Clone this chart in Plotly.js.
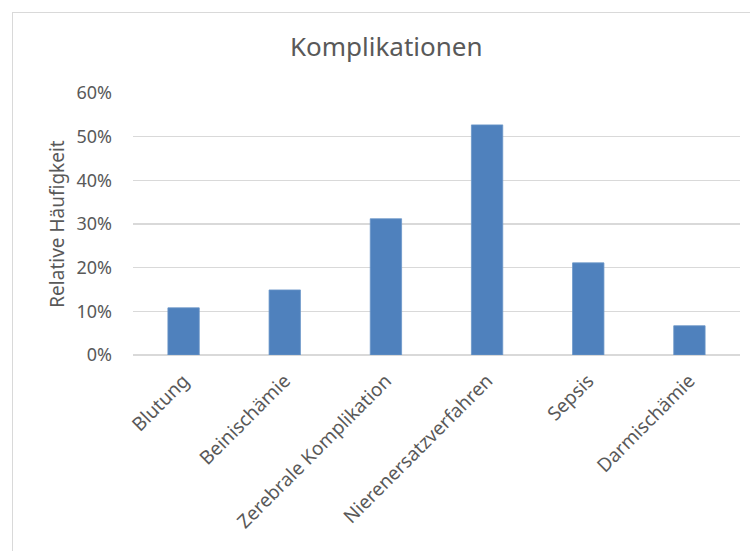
<!DOCTYPE html>
<html>
<head>
<meta charset="utf-8">
<script src="https://cdn.plot.ly/plotly-3.0.1.min.js"></script>
<style>
  html, body { margin: 0; padding: 0; background: #ffffff; overflow: hidden; }
  #wrap { position: relative; width: 750px; height: 551px; }
  #chart { position: absolute; left: 0; top: 0; width: 750px; height: 551px; }
  #frame { position: absolute; left: 12px; top: 12px; width: 800px; height: 600px;
           border: 1.5px solid #d9d9d9; pointer-events: none; }
</style>
</head>
<body>
<div id="wrap">
  <div id="chart"></div>
  <div id="frame"></div>
</div>
<script>
// Complication categories and their relative frequencies
const categories = [
  'Blutung',
  'Beinischämie',
  'Zerebrale Komplikation',
  'Nierenersatzverfahren',
  'Sepsis',
  'Darmischämie'
];
const frequencies = [0.108, 0.149, 0.312, 0.527, 0.211, 0.067];
const yTicks = [0, 0.1, 0.2, 0.3, 0.4, 0.5, 0.6];
const yTickLabels = ['0%', '10%', '20%', '30%', '40%', '50%', '60%'];

const textColor = '#595959';
const gridColor = '#d9d9d9';
const fontFamily = '"Noto Sans", "Open Sans", sans-serif';

const bars = {
  type: 'bar',
  x: categories,
  y: frequencies,
  marker: { color: '#4f81bd', line: { color: '#6a95c8', width: 0.8 } },
  hoverinfo: 'x+y'
};

const layout = {
  width: 750,
  height: 551,
  margin: { l: 133, r: 10, t: 93, b: 196 },
  paper_bgcolor: '#ffffff',
  plot_bgcolor: '#ffffff',
  showlegend: false,
  bargap: 0.69,
  font: { family: fontFamily, color: textColor, size: 17 },
  title: {
    text: 'Komplikationen',
    font: { family: fontFamily, size: 26, color: textColor },
    x: 0.515,
    xanchor: 'center',
    y: 0.915,
    yanchor: 'middle'
  },
  xaxis: {
    type: 'category',
    tickangle: -45,
    tickfont: { family: fontFamily, size: 19, color: textColor },
    ticklabelstandoff: 10,
    showgrid: false,
    showline: false,
    zeroline: false,
    ticks: '',
    automargin: false
  },
  yaxis: {
    range: [0, 0.6],
    tickvals: yTicks,
    ticktext: yTickLabels,
    tickfont: { family: fontFamily, size: 18, color: textColor },
    showgrid: true,
    gridcolor: gridColor,
    gridwidth: 1.5,
    zeroline: true,
    zerolinecolor: gridColor,
    zerolinewidth: 1.5,
    showline: false,
    ticks: '',
    ticklabelstandoff: 20,
    automargin: false,
    title: {
      text: 'Relative Häufigkeit',
      font: { family: fontFamily, size: 19, color: textColor },
      standoff: 6
    }
  }
};

Plotly.newPlot('chart', [bars], layout, { displayModeBar: false, staticPlot: true });
</script>
</body>
</html>
